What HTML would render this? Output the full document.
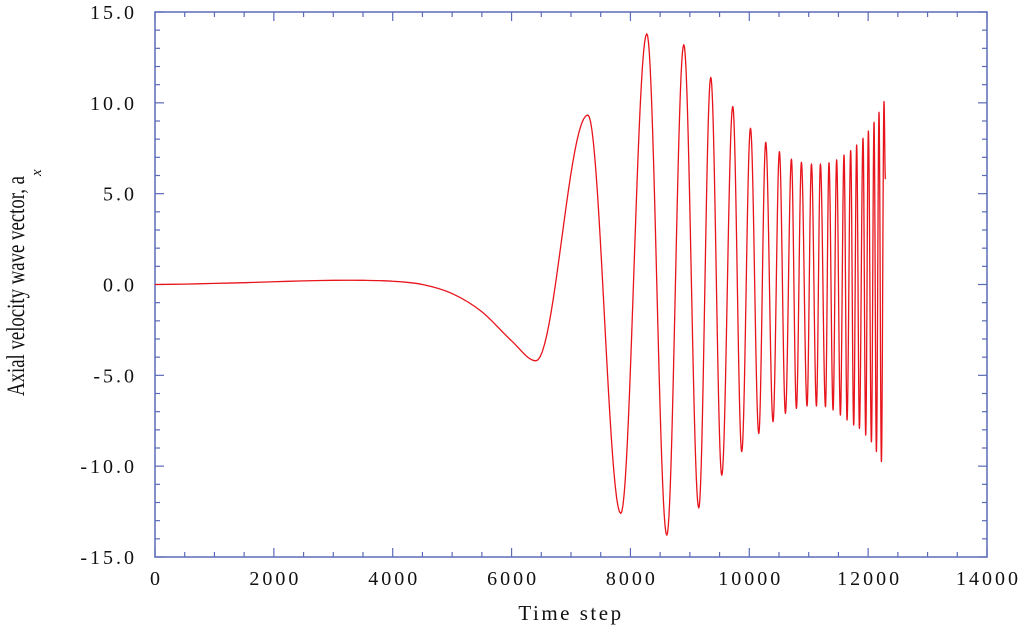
<!DOCTYPE html>
<html><head><meta charset="utf-8"><style>
html,body{margin:0;padding:0;background:#fff;}
svg{display:block;font-family:"Liberation Serif",serif;}
</style></head><body>
<svg id="chart" width="1024" height="630" viewBox="0 0 1024 630" xmlns="http://www.w3.org/2000/svg">
<g id="axes"></g>
<g id="series"></g>
<text x="571" y="620" text-anchor="middle" font-size="21" letter-spacing="2.5" fill="#111">Time step</text>
<text transform="translate(24,396) rotate(-90)" font-size="25" fill="#111" textLength="220" lengthAdjust="spacingAndGlyphs">Axial velocity wave vector, a</text>
<text transform="translate(41,176) rotate(-90)" font-size="15" font-style="italic" fill="#111">x</text>
</svg>
<script>
const xTicks=[0,2000,4000,6000,8000,10000,12000,14000];
const xTickLabels=["0","2000","4000","6000","8000","10000","12000","14000"];
const yTicks=[15,10,5,0,-5,-10,-15];
const yTickLabels=["15.0","10.0","5.0","0.0","-5.0","-10.0","-15.0"];
const baseTimes=[0,500,1000,1500,2000,2500,3000,3500,4000,4500,5000,5500,6000,6409];
const baseValues=[0,0.02,0.06,0.1,0.15,0.2,0.23,0.23,0.18,0.0,-0.5,-1.5,-3.1,-4.2];
const extTimes=[6409,7283,7838,8276,8612,8898,9150,9352,9537,9722,9873,10020,10160,10277,10400,10507,10608,10709,10793,10877,10972,11046,11130,11197,11282,11341,11410,11470,11533,11594,11645,11706,11757,11807,11853,11914,11959,12004,12055,12099,12139,12183,12223,12267,12290];
const extValues=[-4.2,9.33,-12.6,13.8,-13.8,13.2,-12.3,11.4,-10.5,9.8,-9.2,8.6,-8.2,7.83,-7.55,7.31,-7.09,6.9,-6.82,6.73,-6.69,6.63,-6.69,6.63,-6.73,6.7,-6.91,6.86,-7.19,7.13,-7.46,7.37,-7.74,7.68,-7.92,8.05,-8.29,8.45,-8.66,8.93,-9.2,9.48,-9.75,10.07,5.8];

const X0=155,X1=987,Y0=557,Y1=12;
const sx=t=>X0+(t-0)/14000*(X1-X0);
const sy=v=>Y0-(v+15)/30*(Y0-Y1);
const NS="http://www.w3.org/2000/svg";
const axes=document.getElementById('axes');
const ser=document.getElementById('series');
function mk(tag,attrs,parent){const e=document.createElementNS(NS,tag);for(const k in attrs)e.setAttribute(k,attrs[k]);parent.appendChild(e);return e;}
const ac="#5b6bb8";
const frame=mk('rect',{x:X0,y:Y1,width:X1-X0,height:Y0-Y1,fill:'none',stroke:ac,'stroke-width':1.5},axes);


for(let t=0;t<=14000;t+=500){
  const major=t%2000===0;const L=major?9:5;const x=sx(t);
  const a=mk('line',{x1:x,y1:Y0,x2:x,y2:Y0-L,stroke:ac,'stroke-width':1.2},axes);
  
  
  const b=mk('line',{x1:x,y1:Y1,x2:x,y2:Y1+L,stroke:ac,'stroke-width':1.2},axes);
  
  
}
for(let v=-15;v<=15;v+=1){
  const major=v%5===0;const L=major?9:5;const y=sy(v);
  const a=mk('line',{x1:X0,y1:y,x2:X0+L,y2:y,stroke:ac,'stroke-width':1.2},axes);
  
  
  const b=mk('line',{x1:X1,y1:y,x2:X1-L,y2:y,stroke:ac,'stroke-width':1.2},axes);
  
  
}
xTicks.forEach((t,i)=>{
  const e=mk('text',{x:sx(t)+1.5,y:585,'text-anchor':'middle','font-size':20,'letter-spacing':3,fill:'#111'},axes);
  e.textContent=xTickLabels[i];
  
  
});
yTicks.forEach((v,i)=>{
  const e=mk('text',{x:137,y:sy(v)+7,'text-anchor':'end','font-size':20,'letter-spacing':3,fill:'#111'},axes);
  e.textContent=yTickLabels[i];
  
  
});
// baseline part: Hermite spline with Catmull tangents, zero slope at final point
const P=baseTimes.map((t,i)=>[sx(t),sy(baseValues[i])]);
const n=P.length;
const m=P.map((p,i)=>{
  if(i===0) return (P[1][1]-P[0][1])/(P[1][0]-P[0][0]);
  if(i===n-1) return 0;
  return (P[i+1][1]-P[i-1][1])/(P[i+1][0]-P[i-1][0]);
});
// limit tangent before final extremum to avoid overshoot
{
  const i=n-2;const lim=1.5*(P[n-1][1]-P[i][1])/(P[n-1][0]-P[i][0]);
  if(Math.abs(m[i])>Math.abs(lim)) m[i]=lim;
}
let d='M'+P[0][0].toFixed(2)+','+P[0][1].toFixed(2);
for(let i=0;i<n-1;i++){
  const p1=P[i],p2=P[i+1],dx=p2[0]-p1[0];
  const c1=[p1[0]+dx/3,p1[1]+m[i]*dx/3];
  const c2=[p2[0]-dx/3,p2[1]-m[i+1]*dx/3];
  d+=' C'+c1[0].toFixed(2)+','+c1[1].toFixed(2)+' '+c2[0].toFixed(2)+','+c2[1].toFixed(2)+' '+p2[0].toFixed(2)+','+p2[1].toFixed(2);
}
// oscillation: cosine interpolation between extrema
for(let i=0;i<extTimes.length-1;i++){
  const t0=extTimes[i],t1=extTimes[i+1],v0=extValues[i],v1=extValues[i+1];
  const k0=24;
  for(let k=1;k<=k0;k++){
    const f=k/k0;const w=(1-Math.cos(Math.PI*f))/2;
    d+=' L'+sx(t0+(t1-t0)*f).toFixed(2)+','+sy(v0+(v1-v0)*w).toFixed(2);
  }
}
const line=mk('path',{d:d,fill:'none',stroke:'#e8141c','stroke-width':1.3,'stroke-linejoin':'round'},ser);


</script>
</body></html>
